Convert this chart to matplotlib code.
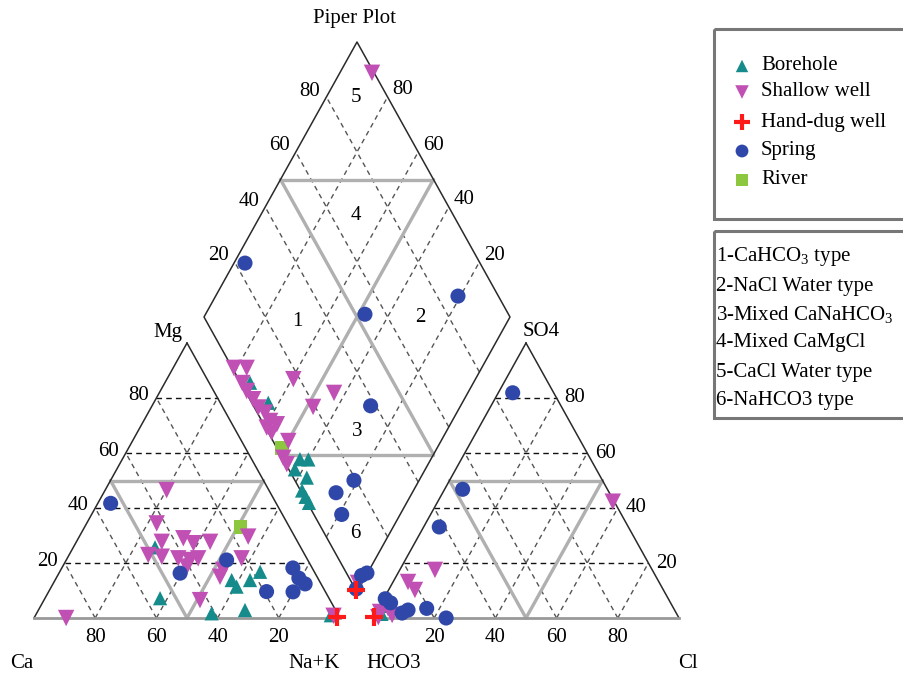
# Piper plot of water samples (borehole, shallow well, hand-dug well, spring, river)

import matplotlib
matplotlib.use('Agg')
import matplotlib.pyplot as plt
from matplotlib.patches import Rectangle

plt.rcParams['font.family'] = ['Liberation Serif', 'DejaVu Serif']
plt.rcParams['mathtext.fontset'] = 'custom'
plt.rcParams['mathtext.rm'] = 'Liberation Serif'

# cation triangle: (Mg %, Na+K %)
bh_cat = [(25.7, 26.7), (7.2, 37.6), (13.8, 57.7), (11.4, 60.5), (13.8, 63.7),
          (16.8, 65.5), (1.7, 57.2), (2.9, 67.5), (1.0, 96.5)]
sw_cat = [(34.4, 22.9), (27.7, 27.9), (22.9, 25.9), (22.3, 30.6), (29.0, 34.3),
          (27.2, 38.5), (27.7, 43.7), (21.7, 36.3), (21.1, 40.4), (21.7, 42.8),
          (18.7, 40.6), (17.5, 53.1), (15.0, 53.3), (21.7, 57.0), (29.6, 55.2),
          (6.5, 51.0), (46.5, 20.1), (0.0, 10.5), (0.8, 97.5)]
hd_cat = [(0.2, 99.0)]
sp_cat = [(41.7, 4.2), (21.1, 52.4), (16.3, 39.6), (9.6, 71.2), (18.2, 75.5),
          (14.5, 79.3), (12.4, 82.4), (9.5, 79.9)]
rv_cat = [(33.2, 50.9)]

# anion triangle: (SO4 %, Cl %)
bh_ani = [(4.4, 3.4), (1.5, 2.0)]
sw_ani = [(42.3, 57.2), (17.5, 11.5), (13.1, 4.9), (10.2, 8.6), (2.2, 1.2),
          (3.6, 3.1), (0.3, 1.6), (1.1, 5.7)]
hd_ani = [(0.3, 0.2)]
sp_ani = [(81.9, 4.7), (46.8, 5.9), (33.1, 5.1), (3.5, 15.8), (0.0, 23.9),
          (1.8, 8.6), (7.0, 0.5), (2.9, 10.0), (5.5, 3.0)]
rv_ani = []

# diamond: (Ca+Mg %, SO4+Cl %)
bh_dia = [(73.0, 3.1), (63.4, 5.4), (42.8, 5.5), (40.0, 8.2), (42.6, 2.0),
          (37.2, 4.4), (36.4, 0.5), (34.1, 0.5), (31.9, 0.5)]
sw_dia = [(81.0, 0.5), (76.8, 4.7), (75.5, 0.5), (72.6, 0.5), (69.0, 1.1),
          (65.8, 1.3), (62.7, 2.5), (59.5, 2.7), (56.7, 4.3), (59.4, 0.4),
          (56.9, 1.1), (49.9, 5.0), (48.5, 0.3), (46.2, 0.3), (59.5, 17.9),
          (48.0, 19.3), (43.7, 28.7), (89.5, 99.3), (1.3, 2.0)]
hd_dia = [(0.7, 0.1)]
sp_dia = [(96.4, 23.2), (20.8, 86.8), (47.9, 53.1), (29.4, 38.3), (21.3, 19.3),
          (24.9, 11.2), (19.1, 9.1), (0.2, 6.7), (1.5, 4.5), (0.8, 0.3)]
rv_dia = [(50.8, 1.6)]

ticks = [20, 40, 60, 80]
groups = ['Borehole', 'Shallow well', 'Hand-dug well', 'Spring', 'River']
types = ['1-CaHCO$_3$ type', '2-NaCl Water type', '3-Mixed CaNaHCO$_3$',
         '4-Mixed CaMgCl', '5-CaCl Water type', '6-NaHCO3 type']

# geometry in pixels
CX0, AX0, BASE = 34, 373, 618
SIDE, HT = 306, 275
DBX, DBY = 357, 592


def cat_xy(mg, na):
    return CX0 + SIDE * (na + mg / 2) / 100, BASE - HT * mg / 100


def ani_xy(so4, cl):
    return AX0 + SIDE * (cl + so4 / 2) / 100, BASE - HT * so4 / 100


def dia_xy(camg, so4cl):
    a, b = so4cl / 100, camg / 100
    return DBX + SIDE / 2 * (a - b), DBY - HT * (a + b)


fig = plt.figure(figsize=(9.04, 6.75), dpi=100)
ax = fig.add_axes([0, 0, 1, 1])
ax.set_xlim(0, 904)
ax.set_ylim(675, 0)
ax.axis('off')


def seg(p, q, **kw):
    ax.plot([p[0], q[0]], [p[1], q[1]], **kw)


dash_h = dict(color='#111111', lw=1.0, ls=(0, (4, 3)), zorder=1)
dash_d = dict(color='#555555', lw=1.0, ls=(0, (3.5, 3)), zorder=1)
thick = dict(color='#b0b0b0', lw=2.4, zorder=2, solid_capstyle='round')
edge = dict(color='#2a2a2a', lw=1.1, zorder=3)
base = dict(color='#999999', lw=2.0, zorder=3)

for f in (cat_xy, ani_xy):
    for v in ticks:
        seg(f(v, 0), f(v, 100 - v), **dash_h)
        seg(f(0, v), f(100 - v, v), **dash_d)
        seg(f(0, 100 - v), f(100 - v, 0), **dash_d)
    seg(f(50, 0), f(50, 50), **thick)
    seg(f(50, 0), f(0, 50), **thick)
    seg(f(50, 50), f(0, 50), **thick)
    seg(f(0, 0), f(100, 0), **edge)
    seg(f(0, 100), f(100, 0), **edge)
    seg(f(0, 0), f(0, 100), **base)

for v in ticks:
    seg(dia_xy(v, 0), dia_xy(v, 100), **dash_d)
    seg(dia_xy(0, v), dia_xy(100, v), **dash_d)
seg(dia_xy(50, 0), dia_xy(50, 100), **thick)
seg(dia_xy(0, 50), dia_xy(100, 50), **thick)
seg(dia_xy(100, 50), dia_xy(50, 100), **thick)
seg(dia_xy(50, 0), dia_xy(0, 50), **thick)
corners = [dia_xy(0, 0), dia_xy(100, 0), dia_xy(100, 100), dia_xy(0, 100), dia_xy(0, 0)]
ax.plot([c[0] for c in corners], [c[1] for c in corners], **edge)

styles = {
    'Borehole': dict(marker='^', c='#168b8b', s=105),
    'Shallow well': dict(marker='v', c='#c050b4', s=140),
    'Hand-dug well': dict(marker='+', c='#ff1a1a', s=150, linewidths=3.0),
    'Spring': dict(marker='o', c='#2f47a8', s=118),
    'River': dict(marker='s', c='#8dc63f', s=100),
}
legend_size = {'Borehole': 80, 'Shallow well': 95, 'Hand-dug well': 120, 'Spring': 85, 'River': 80}

data = {
    'Borehole': (bh_cat, bh_ani, bh_dia),
    'River': (rv_cat, rv_ani, rv_dia),
    'Shallow well': (sw_cat, sw_ani, sw_dia),
    'Spring': (sp_cat, sp_ani, sp_dia),
    'Hand-dug well': (hd_cat, hd_ani, hd_dia),
}
for z, (name, sets) in enumerate(data.items()):
    st = styles[name]
    for f, pts in zip((cat_xy, ani_xy, dia_xy), sets):
        if not pts:
            continue
        xy = [f(*p) for p in pts]
        ax.scatter([p[0] for p in xy], [p[1] for p in xy],
                   edgecolors='none' if st['marker'] != '+' else None,
                   zorder=5 + z, **st)

fs = 15
# tick labels
for v in ticks:
    x, y = cat_xy(0, 100 - v)
    ax.text(x, 637, str(v), ha='center', va='center', fontsize=fs)
    x, y = cat_xy(v, 0)
    ax.text(x - 7, y - 2, str(v), ha='right', va='center', fontsize=fs)
    x, y = ani_xy(0, v)
    ax.text(x, 637, str(v), ha='center', va='center', fontsize=fs)
    x, y = ani_xy(v, 100 - v)
    ax.text(x + 8, y, str(v), ha='left', va='center', fontsize=fs)
    x, y = dia_xy(100, v)
    ax.text(x - 6, y - 6, str(v), ha='right', va='center', fontsize=fs)
    x, y = dia_xy(v, 100)
    ax.text(x + 5, y - 7, str(v), ha='left', va='center', fontsize=fs)

ax.text(22, 663, 'Ca', ha='center', va='center', fontsize=fs)
ax.text(314, 663, 'Na+K', ha='center', va='center', fontsize=fs)
ax.text(394, 663, 'HCO3', ha='center', va='center', fontsize=fs)
ax.text(688, 663, 'Cl', ha='center', va='center', fontsize=fs)
ax.text(168, 332, 'Mg', ha='center', va='center', fontsize=fs)
ax.text(541, 331, 'SO4', ha='center', va='center', fontsize=fs)
ax.text(355, 18, 'Piper Plot', ha='center', va='center', fontsize=fs)

# region numbers
region_pos = [(297, 322), (420, 317), (357, 432), (356, 216), (356, 98), (355, 533)]
for i, (x, y) in enumerate(region_pos):
    ax.text(x, y, str(i + 1), ha='center', va='center', fontsize=fs)

# legend boxes
ax.add_patch(Rectangle((714, 29), 200, 190, fill=False, ec='#777777', lw=2.2, zorder=10))
ax.add_patch(Rectangle((714, 231), 200, 187, fill=False, ec='#777777', lw=2.2, zorder=10))
leg_y = [66, 92, 122, 151, 180]
for name, y in zip(groups, leg_y):
    st = dict(styles[name])
    st['s'] = legend_size[name]
    ax.scatter([742], [y], edgecolors='none' if st['marker'] != '+' else None, zorder=11, **st)
    ax.text(761, y, name, ha='left', va='center', fontsize=fs)
type_y = [257, 287, 315, 343, 372, 400]
for t, y in zip(types, type_y):
    ax.text(716, y, t, ha='left', va='center', fontsize=fs)

fig.savefig('out.png', dpi=100)
